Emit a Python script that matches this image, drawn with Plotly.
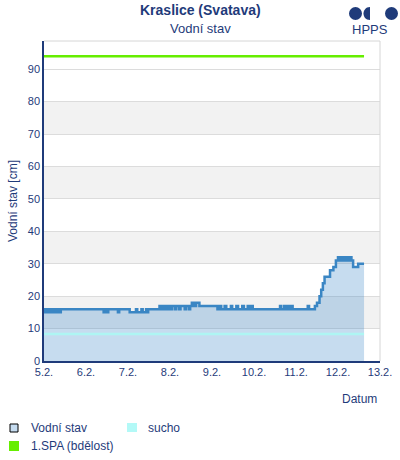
import pandas as pd
import plotly.graph_objects as go

# ---------------- data ----------------
start_date = "2025-02-05"
# time offsets in days from 5.2. 00:00 and water level [cm] (step series)
t_days = [0.00, 0.03, 0.06, 0.08, 0.11, 0.13, 0.17, 0.19, 0.22, 0.25, 0.28, 0.31, 0.34, 0.37, 0.40,
          0.46, 1.42, 1.45, 1.50, 1.53, 1.76, 1.79,
          2.04, 2.19, 2.22, 2.32, 2.35, 2.43, 2.45, 2.48,
          2.75, 2.78, 2.80, 2.84, 2.88, 2.92, 2.96, 3.00, 3.05, 3.12, 3.15, 3.22, 3.25, 3.35, 3.38, 3.45, 3.48,
          3.52, 3.58, 3.62, 3.70,
          4.13, 4.18, 4.22, 4.30, 4.34, 4.45, 4.48, 4.58, 4.62, 4.72, 4.76, 4.85, 4.88, 4.93, 4.97,
          5.62, 5.65, 5.72, 5.76, 5.80, 5.84, 5.88, 5.92,
          6.28, 6.31,
          6.45, 6.50, 6.56, 6.60, 6.64, 6.68, 6.81, 6.89, 6.95, 7.00, 7.04, 7.07, 7.11, 7.14, 7.18,
          7.21, 7.25, 7.28, 7.32, 7.36, 7.48, 7.62]
level_cm = [16, 15, 16, 15, 16, 15, 16, 15, 16, 15, 16, 15, 16, 15, 16,
            16, 15, 16, 15, 16, 15, 16,
            15, 16, 15, 16, 15, 16, 15, 16,
            17, 16, 17, 16, 17, 16, 17, 16, 17, 16, 17, 16, 17, 16, 17, 16, 17,
            18, 17, 18, 17,
            16, 17, 16, 17, 16, 17, 16, 17, 16, 17, 16, 17, 16, 17, 16,
            17, 16, 17, 16, 17, 16, 17, 16,
            17, 16,
            17, 18, 20, 22, 24, 26, 28, 29, 31, 32, 31, 32, 31, 32, 31,
            32, 31, 32, 31, 29, 30, 30]
sucho_cm = 8.3          # drought limit
spa1_cm = 94            # 1. SPA (bdělost)
y_max = 98.7

tick_days = [0, 1, 2, 3, 4, 5, 6, 7, 8]
tick_labels = ["5.2.", "6.2.", "7.2.", "8.2.", "9.2.", "10.2.", "11.2.", "12.2.", "13.2."]

series_name = "Vodní stav"
sucho_name = "sucho"
spa_name = "1.SPA (bdělost)"
title_text = "Kraslice (Svatava)"
subtitle_text = "Vodní stav"
y_title = "Vodní stav [cm]"
x_title = "Datum"

# ---------------- styling ----------------
W, H = 400, 460
ML, MR, MT, MB = 44, 20, 41, 99
PW, PH = W - ML - MR, H - MT - MB
NAVY = "#1f3b7a"
FONT = "Arial, Liberation Sans, sans-serif"
LINE_C = "#3a86c4"
FILL_C = "rgba(58,134,200,0.29)"
SUCHO_C = "#aef5f3"
SPA_C = "#66ee00"


def px(x):
    return (x - ML) / PW


def py(y):
    return (H - MB - y) / PH


t0 = pd.Timestamp(start_date)
times = [t0 + pd.to_timedelta(d, unit="D") for d in t_days]
tick_vals = [t0 + pd.to_timedelta(d, unit="D") for d in tick_days]
t_end = times[-1]

fig = go.Figure()
fig.add_trace(go.Scatter(x=times, y=level_cm, mode="lines", line=dict(shape="hv", width=0, color=LINE_C),
                         fill="tozeroy", fillcolor=FILL_C, showlegend=False, hoverinfo="skip"))
fig.add_trace(go.Scatter(x=[times[0], t_end], y=[sucho_cm, sucho_cm], mode="lines",
                         line=dict(color=SUCHO_C, width=2.5), name=sucho_name, showlegend=False))
fig.add_trace(go.Scatter(x=[times[0], t_end], y=[spa1_cm, spa1_cm], mode="lines",
                         line=dict(color=SPA_C, width=2.5), name=spa_name, showlegend=False))
fig.add_trace(go.Scatter(x=times, y=level_cm, mode="lines", line=dict(shape="hv", width=2.5, color=LINE_C),
                         name=series_name, showlegend=False))

shapes = []
for b0 in [10, 30, 50, 70]:
    shapes.append(dict(type="rect", xref="paper", yref="y", x0=0, x1=1, y0=b0, y1=b0 + 10,
                       fillcolor="#f2f2f2", line=dict(width=0), layer="below"))
# top / right frame
shapes.append(dict(type="line", xref="paper", yref="paper", x0=0, x1=1, y0=1, y1=1,
                   line=dict(color="#d6d6d6", width=1)))
shapes.append(dict(type="line", xref="paper", yref="paper", x0=1, x1=1, y0=0, y1=1,
                   line=dict(color="#d6d6d6", width=1)))
# legend symbols
shapes.append(dict(type="rect", xref="paper", yref="paper", x0=px(10), x1=px(18), y0=py(432), y1=py(424),
                   fillcolor="#c6dcf0", line=dict(color="black", width=1)))
shapes.append(dict(type="rect", xref="paper", yref="paper", x0=px(127), x1=px(137), y0=py(432), y1=py(423),
                   fillcolor="#b3f9f7", line=dict(width=0)))
shapes.append(dict(type="rect", xref="paper", yref="paper", x0=px(9), x1=px(19), y0=py(451), y1=py(441),
                   fillcolor=SPA_C, line=dict(width=0)))
# HPPS logo
shapes.append(dict(type="circle", xref="paper", yref="paper", x0=px(349), x1=px(362), y0=py(20), y1=py(7),
                   fillcolor=NAVY, line=dict(width=0)))
shapes.append(dict(type="path", xref="paper", yref="paper",
                   path=(f"M {px(370)},{py(7)} "
                         f"C {px(365.5)},{py(7)} {px(363.5)},{py(10.5)} {px(363.5)},{py(13.5)} "
                         f"C {px(363.5)},{py(16.5)} {px(365.5)},{py(20)} {px(370)},{py(20)} Z"),
                   fillcolor=NAVY, line=dict(width=0)))
shapes.append(dict(type="circle", xref="paper", yref="paper", x0=px(385), x1=px(398), y0=py(20), y1=py(7),
                   fillcolor=NAVY, line=dict(width=0)))

annotations = [
    dict(text=f"<b>{title_text}</b>", x=px(200), y=py(10), font=dict(size=14, color=NAVY)),
    dict(text=subtitle_text, x=px(200), y=py(28), font=dict(size=13, color=NAVY)),
    dict(text="HPPS", x=px(370), y=py(30), font=dict(size=13, color=NAVY)),
    dict(text=x_title, x=px(359), y=py(399), font=dict(size=12, color=NAVY)),
    dict(text=series_name, x=px(29), y=py(428), xanchor="left", font=dict(size=12, color=NAVY)),
    dict(text=sucho_name, x=px(146), y=py(428), xanchor="left", font=dict(size=12, color=NAVY)),
    dict(text=spa_name, x=px(29), y=py(446), xanchor="left", font=dict(size=12, color=NAVY)),
]
for a in annotations:
    a.update(xref="paper", yref="paper", showarrow=False)
    a.setdefault("xanchor", "center")
    a.setdefault("yanchor", "middle")

fig.update_layout(
    width=W, height=H,
    margin=dict(l=ML, r=MR, t=MT, b=MB, pad=0, autoexpand=False),
    paper_bgcolor="white", plot_bgcolor="white",
    font=dict(family=FONT, size=11, color=NAVY),
    showlegend=False,
    shapes=shapes, annotations=annotations,
    xaxis=dict(range=[tick_vals[0], tick_vals[-1]], tickvals=tick_vals, ticktext=tick_labels,
               showgrid=False, zeroline=False, showline=True, linecolor=NAVY, linewidth=1.5,
               ticks="", tickfont=dict(size=11, color=NAVY), automargin=False),
    yaxis=dict(range=[0, y_max], tickvals=[0, 10, 20, 30, 40, 50, 60, 70, 80, 90],
               showgrid=True, gridcolor="#dcdcdc", gridwidth=1, zeroline=False,
               showline=True, linecolor=NAVY, linewidth=1.5, ticks="", automargin=False,
               tickfont=dict(size=11, color=NAVY),
               title=dict(text=y_title, font=dict(size=12, color=NAVY), standoff=8)),
)

fig.write_html("out.html", config={"displayModeBar": False},
               post_script="document.body.style.margin='0px';")
